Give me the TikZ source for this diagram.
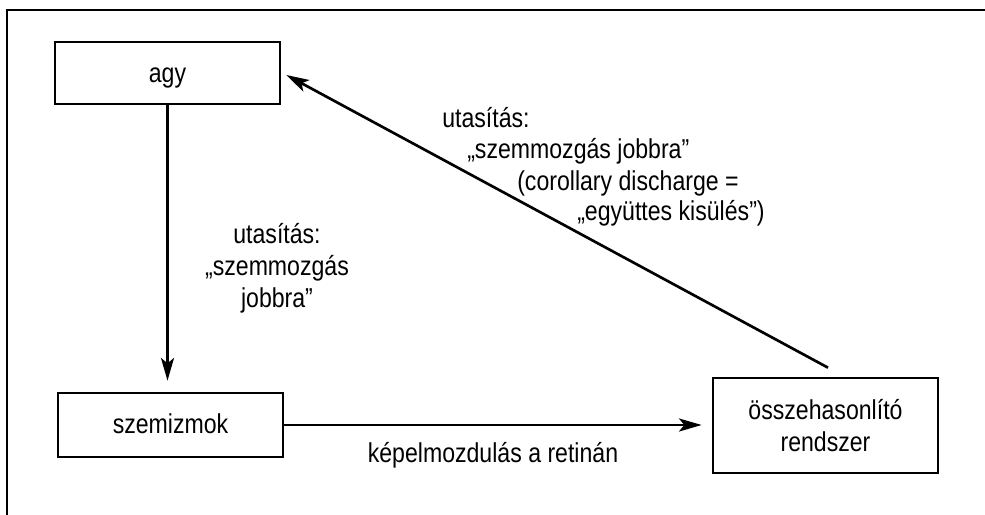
\documentclass[tikz,border=0pt]{standalone}
\usepackage{fontspec}
\setmainfont{Liberation Sans}[FakeStretch=0.845]
\usetikzlibrary{arrows.meta,calc}
\newcommand\fsz{\fontsize{20.5pt}{24pt}\selectfont}
\begin{document}
\begin{tikzpicture}[x=0.75pt,y=-0.75pt,
  box/.style={draw, line width=2pt, minimum width=168.75pt, inner sep=0pt, font=\fsz},
  arr/.style={line width=2pt, -{Stealth[length=17pt,width=9.75pt,inset=4pt]}},
  lab/.style={inner sep=0pt, font=\fsz}]
\useasboundingbox (0,0) rectangle (985,514);
\draw[line width=1.5pt] (6.5,520) -- (6.5,10) -- (990,10);
% boxes
\node[box, minimum height=46.5pt, text height=14pt, text depth=0pt] (agy) at (167.5,73) {agy};
\node[box, minimum height=48pt, text height=14pt, text depth=1pt] (szem) at (170.5,425) {szemizmok};
\node[box, minimum height=71.25pt, align=center] (comp) at (825.5,425.5) {összehasonlító\\rendszer};
% connectors
\draw[arr, shorten >=8.25pt] (agy.south) -- (agy.south |- szem.north);
\draw[arr, shorten >=7.5pt] (szem.east) -- (szem.east -| comp.west);
\coordinate (dstart) at ($(comp.north)+(2.5,-9)$);
\coordinate (dend) at ($(agy.east)+(5,2)$);
\draw[arr] (dstart) -- (dend);
% labels
\node[lab, anchor=base] (m1) at (277,243) {utasítás:};
\node[lab, anchor=base] (m2) at (277,275) {„szemmozgás};
\node[lab, anchor=base] (m3) at (277,307) {jobbra”};
\node[lab, anchor=base west] (c1) at (442,127) {utasítás:};
\node[lab, anchor=base west] (c2) at (467,158) {„szemmozgás jobbra”};
\node[lab, anchor=base west] (c3) at (517,190) {(corollary discharge =};
\node[lab, anchor=base west] (c4) at (577,220) {„együttes kisülés”)};
\node[lab, anchor=base] (b1) at (493,462) {képelmozdulás a retinán};
\end{tikzpicture}
\end{document}
